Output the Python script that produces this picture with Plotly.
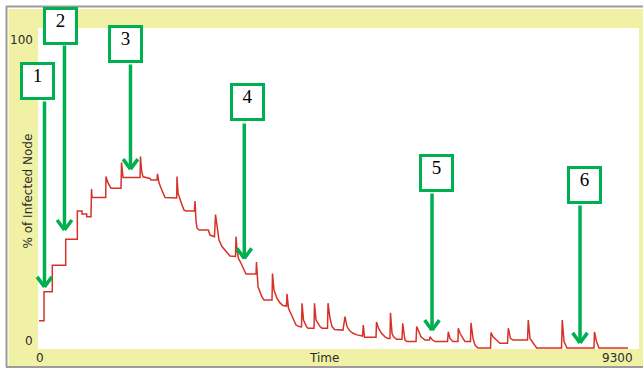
import plotly.graph_objects as go

# ---------------- data ----------------
time = [0, 78, 78, 206, 206, 414, 414, 594, 594, 666, 666, 739, 739, 806,
        814, 822, 1034, 1038, 1070, 1116, 1271, 1279, 1302, 1566, 1573, 1589,
        1612, 1720, 1736, 1829, 1837, 1860, 1891, 1922, 1953, 2134, 2139, 2155,
        2186, 2217, 2248, 2279, 2410, 2418, 2434, 2449, 2480, 2624, 2650, 2720,
        2736, 2759, 2790, 2836, 2883, 2930, 2960, 3046, 3054, 3069, 3092, 3131,
        3162, 3193, 3208, 3364, 3371, 3395, 3426, 3457, 3488, 3612, 3619, 3642,
        3689, 3736, 3782, 3836, 3844, 3867, 3914, 3937, 3984, 4030, 4069, 4077,
        4100, 4146, 4170, 4263, 4270, 4294, 4356, 4387, 4472, 4480, 4511, 4542,
        4580, 4712, 4743, 4774, 4820, 4867, 4929, 5014, 5027, 5045, 5224, 5231,
        5262, 5309, 5363, 5410, 5440, 5448, 5472, 5495, 5544, 5627, 5637, 5665,
        5673, 5704, 5844, 5854, 5890, 5921, 5983, 6053, 6060, 6099, 6138, 6332,
        6344, 6370, 6417, 6494, 6499, 6526, 6572, 6603, 6688, 6696, 6727, 6758,
        6804, 6998, 7006, 7037, 7091, 7145, 7262, 7274, 7308, 7347, 7572, 7584,
        7610, 7657, 7714, 8099, 8111, 8138, 8184, 8602, 8610, 8641, 8680, 9130]
infected = [8.5, 8.5, 17.6, 17.6, 25.9, 25.9, 34.0, 34.0, 42.8, 42.8, 41.9, 41.9, 41.0, 41.0,
            49.7, 47.0, 47.0, 53.6, 51.6, 49.9, 49.9, 58.0, 53.3, 53.3, 59.8, 55.6,
            53.5, 53.0, 52.5, 52.5, 54.4, 51.6, 50.0, 48.4, 47.0, 46.9, 53.6, 48.4,
            46.3, 44.7, 43.1, 42.8, 42.8, 45.9, 39.7, 37.5, 36.9, 36.9, 35.3, 34.8,
            41.7, 37.9, 33.75, 31.7, 30.6, 29.6, 28.75, 28.6, 34.8, 30.6, 28.0, 26.5,
            25.3, 23.75, 23.1, 23.1, 26.9, 19.1, 17.5, 15.9, 15.0, 15.0, 23.3, 18.1,
            15.5, 14.1, 13.3, 13.1, 16.9, 12.4, 10.3, 9.3, 7.2, 6.7, 6.6, 14.0,
            8.75, 6.7, 6.2, 6.2, 14.0, 8.75, 6.7, 6.2, 6.2, 14.0, 9.3, 6.7,
            5.8, 5.6, 9.8, 6.7, 5.3, 4.6, 4.1, 3.75, 7.2, 3.4, 3.4, 8.1,
            6.2, 4.6, 3.5, 3.0, 3.0, 11.0, 4.6, 3.5, 2.7, 2.7, 7.7, 3.5,
            2.5, 2.0, 2.0, 6.7, 4.6, 3.5, 2.5, 2.5, 3.5, 2.5, 2.0, 2.0,
            5.1, 3.0, 2.0, 2.0, 6.2, 4.6, 3.0, 2.0, 2.0, 7.9, 3.0, 0.9,
            0, 0, 4.8, 3.5, 2.5, 1.5, 1.5, 6.2, 3.0, 2.5, 2.5, 8.75,
            3.0, 1.5, 0, 0, 8.75, 2.0, 0, 0, 5.0, 2.0, 0, 0]

# callouts: label and the (time, %) point each arrow points at
callout_labels = ["1", "2", "3", "4", "5", "6"]
callout_time = [85, 395, 1418, 3182, 6092, 8386]
callout_pct = [19.1, 36.9, 55.9, 28.0, 5.6, 1.6]

# axis corner labels
y_tick_labels = ["100", "0"]
x_tick_labels = ["0", "9300"]
x_title = "Time"
y_title = "% of Infected Node"

# ---------------- layout / styling ----------------
W, H = 643, 370
L, R, T, B = 38, 4, 28, 21
PW, PH = W - L - R, H - T - B

def fx(px):
    return (px - L) / PW

def fy(py):
    return (H - B - py) / PH

# box centre offsets from arrow tip (px), arrow lengths (px)
box_dx = [-6.5, -4, -4.5, 3.7, 4, 4]
box_dy = [205.5, 204, 125, 156, 157, 158]
arrow_len = [187, 186, 106, 136.5, 138, 139]

GREEN = "#00b050"
YELLOW = "#f1f1a6"
FRAME = "#9c9c9c"
TXT = "#2b2b2b"

fig = go.Figure()
fig.add_trace(go.Scatter(x=time, y=infected, mode="lines",
                         line=dict(color="#d73229", width=1.5),
                         hoverinfo="skip", showlegend=False))

annotations = []
for lab, t, p, dx, dy, ln in zip(callout_labels, callout_time, callout_pct,
                                 box_dx, box_dy, arrow_len):
    # shaft
    annotations.append(dict(x=t, y=p, xref="x", yref="y", text="", showarrow=True,
                            ax=0, ay=-ln, arrowhead=0, arrowwidth=3.5,
                            arrowcolor=GREEN, standoff=0, startstandoff=0))
    # chevron head
    for sx in (-8.5, 8.5):
        annotations.append(dict(x=t, y=p, xref="x", yref="y", text="", showarrow=True,
                                ax=sx, ay=-11.5, arrowhead=0, arrowwidth=3.5,
                                arrowcolor=GREEN, standoff=0, startstandoff=0))
    # numbered box
    annotations.append(dict(x=t, y=p, xref="x", yref="y", text=lab, showarrow=False,
                            xshift=dx, yshift=dy, xanchor="center", yanchor="middle",
                            width=29, height=32, valign="top", align="center",
                            bgcolor="white", bordercolor=GREEN, borderwidth=3,
                            borderpad=0,
                            font=dict(family="Liberation Serif", size=19, color="black")))

lab_font = dict(family="DejaVu Sans", size=12, color=TXT)
annotations += [
    dict(x=fx(35), y=fy(40), xref="paper", yref="paper", text=y_tick_labels[0],
         showarrow=False, xanchor="right", yanchor="middle", font=lab_font),
    dict(x=fx(35), y=fy(341), xref="paper", yref="paper", text=y_tick_labels[1],
         showarrow=False, xanchor="right", yanchor="middle", font=lab_font),
    dict(x=fx(40), y=fy(358), xref="paper", yref="paper", text=x_tick_labels[0],
         showarrow=False, xanchor="center", yanchor="middle", font=lab_font),
    dict(x=fx(635), y=fy(358), xref="paper", yref="paper", text=x_tick_labels[1],
         showarrow=False, xanchor="right", yanchor="middle", font=lab_font),
    dict(x=fx(324), y=fy(358), xref="paper", yref="paper", text=x_title,
         showarrow=False, xanchor="center", yanchor="middle", font=lab_font),
    dict(x=fx(27.5), y=fy(191), xref="paper", yref="paper", text=y_title,
         showarrow=False, xanchor="center", yanchor="middle", textangle=-90,
         font=lab_font),
]

shapes = [
    # white surround outside the frame
    dict(type="rect", xref="paper", yref="paper", x0=fx(0), x1=fx(8.5), y0=fy(370), y1=fy(0),
         fillcolor="white", line=dict(width=0), layer="above"),
    dict(type="rect", xref="paper", yref="paper", x0=fx(0), x1=fx(643), y0=fy(9), y1=fy(0),
         fillcolor="white", line=dict(width=0), layer="above"),
    dict(type="rect", xref="paper", yref="paper", x0=fx(0), x1=fx(643), y0=fy(370), y1=fy(367.5),
         fillcolor="white", line=dict(width=0), layer="above"),
    # grey frame lines
    dict(type="line", xref="paper", yref="paper", x0=fx(6.5), x1=fx(6.5), y0=fy(367), y1=fy(6),
         line=dict(color=FRAME, width=2), layer="above"),
    dict(type="line", xref="paper", yref="paper", x0=fx(6), x1=fx(643), y0=fy(6.5), y1=fy(6.5),
         line=dict(color=FRAME, width=2), layer="above"),
    dict(type="line", xref="paper", yref="paper", x0=fx(6), x1=fx(643), y0=fy(367), y1=fy(367),
         line=dict(color=FRAME, width=2), layer="above"),
]

fig.update_layout(
    width=W, height=H,
    margin=dict(l=L, r=R, t=T, b=B, pad=0),
    paper_bgcolor=YELLOW, plot_bgcolor="white",
    showlegend=False,
    xaxis=dict(range=[-15.5, 9300], showgrid=False, zeroline=False, showticklabels=False,
               ticks="", showline=False, fixedrange=True),
    yaxis=dict(range=[-0.31, 100], showgrid=False, zeroline=False, showticklabels=False,
               ticks="", showline=False, fixedrange=True),
    annotations=annotations,
    shapes=shapes,
)

fig.write_html("out.html", config={"displayModeBar": False},
               post_script="document.body.style.margin='0';document.body.style.padding='0';"
                           "document.body.style.overflow='hidden';")
